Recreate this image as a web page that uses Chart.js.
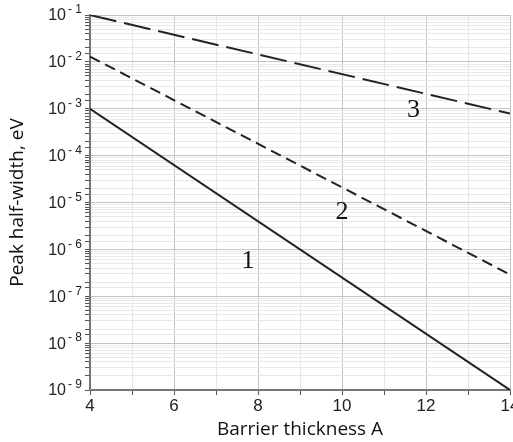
<!DOCTYPE html>
<html>
<head>
<meta charset="utf-8">
<script src="https://cdn.jsdelivr.net/npm/chart.js@4/dist/chart.umd.min.js"></script>
<style>
  html, body { margin: 0; padding: 0; background: #fff; overflow: hidden; }
  #wrap { width: 522px; height: 442px; }
</style>
</head>
<body>
<div id="wrap"><canvas id="chart" width="522" height="442"></canvas></div>
<script>
// barrier thickness (A) and peak half-width (eV)
const curve1X = [4, 14];
const curve1Y = [1e-3, 1e-9];
const curve2X = [4, 14];
const curve2Y = [1.3e-2, 2.9e-7];
const curve3X = [4, 14];
const curve3Y = [1e-1, 7.9e-4];

// curve number labels
const labelText = ['1', '2', '3'];
const labelX = [7.76, 10.0, 11.7];
const labelY = [5.5e-7, 6.2e-6, 9.5e-4];

const toPoints = (xs, ys) => xs.map((x, i) => ({ x: x, y: ys[i] }));

function isDecade(v) {
  const e = Math.log10(v);
  return Math.abs(e - Math.round(e)) < 1e-6;
}

// numbers on the curves
const curveLabels = {
  id: 'curveLabels',
  afterDatasetsDraw(chart) {
    const ctx = chart.ctx;
    const xs = chart.scales.x, ys = chart.scales.y;
    ctx.save();
    ctx.fillStyle = '#111';
    ctx.font = '26px "Liberation Serif", serif';
    ctx.textAlign = 'center';
    ctx.textBaseline = 'middle';
    labelText.forEach((t, i) => {
      ctx.fillText(t, xs.getPixelForValue(labelX[i]), ys.getPixelForValue(labelY[i]));
    });
    ctx.restore();
  }
};

// "10" with a raised exponent for the decade ticks
const powerLabels = {
  id: 'powerLabels',
  afterDraw(chart) {
    const ctx = chart.ctx;
    const ys = chart.scales.y;
    const right = ys.right - 8;
    ctx.save();
    ctx.fillStyle = '#222';
    ctx.textBaseline = 'middle';
    ys.ticks.forEach(t => {
      if (!isDecade(t.value)) return;
      const py = ys.getPixelForValue(t.value);
      const exp = String(Math.round(Math.log10(t.value))).split('').join(' ');
      ctx.font = '12px "Liberation Sans", Arial, sans-serif';
      ctx.textAlign = 'right';
      ctx.fillText(exp, right, py - 5);
      const ew = ctx.measureText(exp).width;
      ctx.font = '16px "Liberation Sans", Arial, sans-serif';
      ctx.fillText('10', right - ew - 2, py + 1);
    });
    ctx.restore();
  }
};

const line = (xs, ys, dash) => ({
  data: toPoints(xs, ys),
  borderColor: '#222',
  borderWidth: 2,
  borderDash: dash,
  pointRadius: 0,
  fill: false,
  tension: 0
});

new Chart(document.getElementById('chart').getContext('2d'), {
  type: 'line',
  data: {
    datasets: [
      line(curve1X, curve1Y, []),
      line(curve2X, curve2Y, [11, 6]),
      line(curve3X, curve3Y, [27, 8])
    ]
  },
  options: {
    responsive: false,
    animation: false,
    layout: { padding: { top: 15, right: 12, left: 0, bottom: 0 } },
    plugins: { legend: { display: false }, tooltip: { enabled: false } },
    scales: {
      x: {
        type: 'linear',
        min: 4,
        max: 14,
        afterFit: s => { s.height = 52; },
        border: { color: '#777', width: 2 },
        grid: {
          color: c => (c.tick && c.tick.value % 2 === 0) ? '#c4c4c4' : '#e6e6e6',
          tickLength: 5,
          tickColor: '#555'
        },
        ticks: {
          stepSize: 1,
          maxRotation: 0,
          autoSkip: false,
          color: '#222',
          font: { family: '"Liberation Sans", Arial, sans-serif', size: 17 },
          padding: 1,
          callback: v => (v % 2 === 0 ? String(v) : '')
        },
        title: {
          display: true,
          text: 'Barrier thickness A',
          color: '#111',
          font: { family: '"Open Sans", sans-serif', size: 19 },
          padding: { top: 0, bottom: 1 }
        }
      },
      y: {
        type: 'logarithmic',
        min: 1e-9,
        max: 1e-1,
        afterFit: s => { s.width = 90; },
        border: { color: '#777', width: 2 },
        grid: {
          color: c => (c.tick && isDecade(c.tick.value)) ? '#c4c4c4' : '#e8e8e8',
          tickLength: 5,
          tickColor: '#555'
        },
        ticks: {
          autoSkip: false,
          font: { size: 16 },
          callback: () => ''
        },
        title: {
          display: true,
          text: 'Peak half-width, eV',
          color: '#111',
          font: { family: '"Open Sans", sans-serif', size: 19 },
          padding: { top: 6, bottom: 0 }
        }
      }
    }
  },
  plugins: [curveLabels, powerLabels]
});
</script>
</body>
</html>
